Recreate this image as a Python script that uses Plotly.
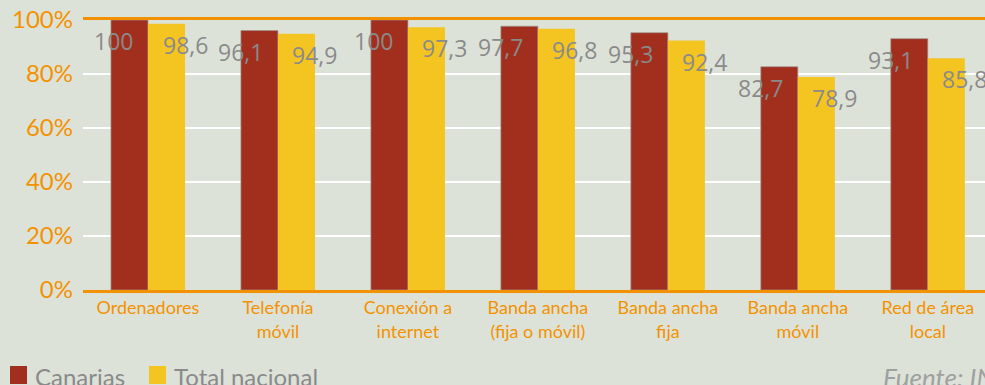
import plotly.graph_objects as go

categories = ["Ordenadores", "Telefonía<br>móvil", "Conexión a<br>internet", "Banda ancha<br>(fija o móvil)",
              "Banda ancha<br>fija", "Banda ancha<br>móvil", "Red de área<br>local"]
canarias = [100, 96.1, 100, 97.7, 95.3, 82.7, 93.1]
total_nacional = [98.6, 94.9, 97.3, 96.8, 92.4, 78.9, 85.8]
y_ticks = [0, 20, 40, 60, 80, 100]
y_tick_labels = ["0%", "20%", "40%", "60%", "80%", "100%"]

RED = "#a22f1e"
YELLOW = "#f4c521"
ORANGE = "#f39200"
GRAY = "#8a8a8a"
BG = "#dde2d9"
BARGAP = 0.43

fig = go.Figure()
fig.add_trace(go.Bar(x=list(range(len(categories))), y=canarias, name="Canarias",
                     marker=dict(color=RED, line=dict(color="rgba(160,150,145,0.7)", width=1))))
fig.add_trace(go.Bar(x=list(range(len(categories))), y=total_nacional, name="Total nacional",
                     marker=dict(color=YELLOW, line=dict(width=0))))

off = (1 - BARGAP) / 4
fmt = lambda v: (f"{v:g}").replace(".", ",")
for i, v in enumerate(canarias):
    fig.add_annotation(x=i - off, y=v, text=fmt(v), showarrow=False, xanchor="right", yanchor="middle",
                       xshift=6, yshift=-21, font=dict(family="Open Sans", size=23, color=GRAY))
for i, v in enumerate(total_nacional):
    fig.add_annotation(x=i + off, y=v, text=fmt(v), showarrow=False, xanchor="left", yanchor="middle",
                       xshift=-6, yshift=-21, font=dict(family="Open Sans", size=23, color=GRAY))

# legend drawn manually
legend_items = [("Canarias", RED, 10), ("Total nacional", YELLOW, 149)]
for name, col, px in legend_items:
    fig.add_shape(type="rect", xref="paper", yref="paper",
                  x0=(px - 83) / 902, x1=(px + 17 - 83) / 902, y0=(290 - 384) / 270, y1=(290 - 366) / 270,
                  fillcolor=col, line=dict(width=0))
    fig.add_annotation(xref="paper", yref="paper", x=(px + 23 - 83) / 902, y=(290 - 376) / 270,
                       text=name, showarrow=False, xanchor="left", yanchor="middle",
                       font=dict(family="Lato", size=24, color=GRAY))
fig.add_annotation(xref="paper", yref="paper", x=(881 - 83) / 902, y=(290 - 377) / 270,
                   text="<i>Fuente: INE</i>", showarrow=False, xanchor="left", yanchor="middle",
                   font=dict(family="Lato", size=26, color="#a0a0a0"))

fig.update_layout(
    width=985, height=385,
    margin=dict(l=83, r=0, t=20, b=95),
    paper_bgcolor=BG, plot_bgcolor=BG,
    barmode="group", bargap=BARGAP, bargroupgap=0,
    showlegend=False,
    xaxis=dict(tickmode="array", tickvals=list(range(len(categories))), ticktext=categories,
               range=[-0.5, 6.44], showgrid=False, zeroline=False,
               showline=True, linecolor=ORANGE, linewidth=2.5, mirror=True,
               ticks="", tickfont=dict(family="Lato", size=18, color=ORANGE)),
    yaxis=dict(range=[0, 100], tickvals=y_ticks, ticktext=y_tick_labels,
               showgrid=True, gridcolor="white", gridwidth=1.5, zeroline=False,
               showline=False, ticks="", ticklabelstandoff=9,
               tickfont=dict(family="Lato", size=24, color=ORANGE)),
)
fig.write_html("out.html", config={"displayModeBar": False},
               post_script="document.body.style.margin='0';document.body.style.overflow='hidden';")
